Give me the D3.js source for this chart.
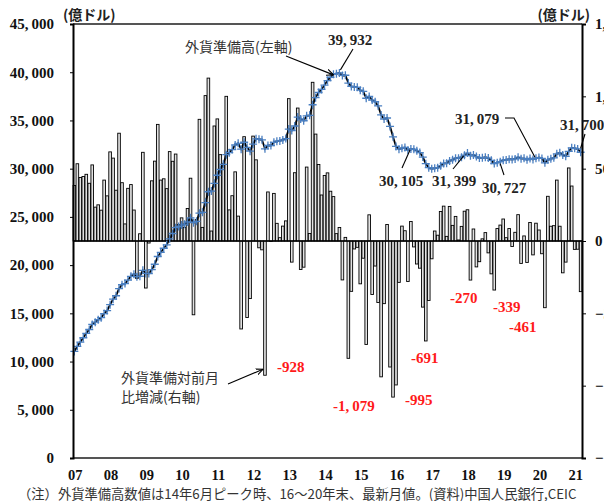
<!DOCTYPE html>
<html><head><meta charset="utf-8">
<script src="https://cdn.jsdelivr.net/npm/d3@7"></script>
<style>body{margin:0;background:#fff;overflow:hidden} svg{display:block}</style>
</head><body>
<svg id="c" width="604" height="501"></svg>
<script>
// ---- data (億ドル), monthly Jan-2007 .. Mar-2021 ----
const yearLabels = ["07","08","09","10","11","12","13","14","15","16","17","18","19","20","21"];
const reserves = [
 11047,11581,12020,12466,12927,13326,13852,14086,14336,14549,14970,15282,
 15898,16471,16822,17567,17970,18088,18452,18842,19056,18797,18847,19460,
 19135,19121,19537,20089,20895,21316,21746,22108,22726,23277,23878,23992,
 24152,24246,24471,24905,24395,24543,25384,25478,26483,27609,27678,28473,
 29317,29914,30447,31447,31662,31975,32453,32625,32017,32738,32209,31811,
 32536,33097,33050,32989,32061,32400,32400,32729,32851,32874,32977,33116,
 34100,33954,34426,35345,35148,34967,35478,35530,36627,37366,37895,38213,
 38666,39137,39481,39788,39839,39932,39663,39688,38877,38529,38474,38430,
 38134,38015,37300,37481,37111,36938,36513,35574,35141,35255,34384,33304,
 32309,32023,32126,32197,31917,32052,32011,31852,31664,31207,30516,30105,
 29982,30051,30091,30295,30536,30568,30807,30915,31085,31092,31193,31399,
 31615,31345,31428,31249,31106,31121,31179,31097,30870,30531,30617,30727,
 30879,30902,30988,30950,31010,31192,31037,31072,30924,31052,30956,31079,
 31155,31067,30606,30915,31017,31123,31544,31646,31426,31280,31785,32165,
 32107,32050,31700];
const changes = [
 384,534,439,446,461,399,526,234,250,213,421,312,
 616,573,351,745,403,118,364,390,214,-259,50,613,
 -325,-14,416,552,806,421,430,362,618,551,601,114,
 160,94,225,434,-510,148,841,94,1005,1126,69,795,
 844,597,533,1000,215,313,478,172,-608,721,-529,-398,
 725,561,-47,-61,-928,339,0,329,122,23,103,139,
 984,-146,472,919,-197,-181,511,52,1097,739,529,318,
 453,471,344,307,51,93,-269,25,-811,-348,-55,-44,
 -296,-119,-715,181,-370,-173,-425,-939,-433,114,-871,-1079,
 -995,-286,103,71,-280,135,-41,-159,-188,-457,-691,-411,
 -123,69,40,204,241,32,239,108,170,7,101,206,
 216,-270,83,-179,-143,15,58,-82,-227,-339,86,110,
 152,23,86,-38,60,182,-155,35,-148,128,-96,123,
 76,-88,-461,309,102,106,421,102,-220,-146,505,380,
 -58,-57,-350];
const leftTicks = [0,5000,10000,15000,20000,25000,30000,35000,40000,45000];
const rightTicks = [-1500,-1000,-500,0,500,1000,1500];
const levelNotes = [ // [month index, text]
 [89,"39,932"],[119,"30,105"],[131,"31,399"],[143,"30,727"],[155,"31,079"],[170,"31,700"]];
const changeNotes = [[64,"-928"],[107,"-1,079"],[108,"-995"],[118,"-691"],[133,"-270"],[141,"-339"],[158,"-461"]];
const footText = "（注）外貨準備高数値は14年6月ピーク時、16～20年末、最新月値。(資料)中国人民銀行,CEIC";

// ---- layout ----
const L = 73, R = 582, T = 24, B = 458;
const NUM = "'Liberation Serif','DejaVu Serif',serif";
const JP = "'Noto Sans CJK JP','Noto Sans',sans-serif";
const svg = d3.select("#c");

const idx = d3.range(reserves.length);
const x = d3.scaleBand().domain(idx).range([L, R]).paddingInner(0.12).paddingOuter(0.02);
const xc = i => x(i) + x.bandwidth() / 2;
const yL = d3.scaleLinear().domain([0, 45000]).range([B, T]);
const yR = d3.scaleLinear().domain([-1500, 1500]).range([B, T]);

function numText(sel, s) {
  sel.text(null);
  const p = s.split(",");
  sel.append("tspan").text(p[0] + (p.length > 1 ? "," : ""));
  if (p.length > 1) sel.append("tspan").attr("dx", 3).text(p[1]);
}

// bars
svg.append("g").selectAll("rect").data(changes).join("rect")
  .attr("x", (d, i) => x(i))
  .attr("width", x.bandwidth())
  .attr("y", d => yR(Math.max(0, d)))
  .attr("height", d => Math.max(0.5, Math.abs(yR(d) - yR(0))))
  .attr("fill", "#e2e2e2").attr("stroke", "#000").attr("stroke-width", 0.9);

// zero line
svg.append("line").attr("x1", L).attr("x2", R).attr("y1", yR(0)).attr("y2", yR(0))
  .attr("stroke", "#000").attr("stroke-width", 1.6);

// reserves line
const line = d3.line().x((d, i) => xc(i)).y(d => yL(d));
svg.append("path").datum(reserves).attr("d", line).attr("fill", "none")
  .attr("stroke", "#000").attr("stroke-width", 1.8);
svg.append("g").selectAll("path").data(reserves).join("path")
  .attr("transform", (d, i) => `translate(${xc(i)},${yL(d)})`)
  .attr("d", "M-4,0H4M0,-4V4")
  .attr("stroke", "#4a7fc1").attr("stroke-width", 1.3).attr("fill", "none");

// frame
svg.append("line").attr("x1", L).attr("x2", R).attr("y1", T).attr("y2", T).attr("stroke", "#555").attr("stroke-width", 2);
svg.append("line").attr("x1", L).attr("x2", R).attr("y1", B).attr("y2", B).attr("stroke", "#555").attr("stroke-width", 2);

// left axis
const gl = svg.append("g").attr("transform", `translate(${L},0)`)
  .call(d3.axisLeft(yL).tickValues(leftTicks).tickSize(3).tickPadding(16).tickFormat(d3.format(",")));
gl.select(".domain").attr("stroke", "#000").attr("stroke-width", 2);
gl.selectAll("text").attr("font-family", NUM).attr("font-size", 15).attr("font-weight", "bold").attr("fill", "#111")
  .each(function(d) { numText(d3.select(this), d3.format(",")(d)); });

// right axis
const gr = svg.append("g").attr("transform", `translate(${R},0)`)
  .call(d3.axisRight(yR).tickValues(rightTicks).tickSize(4).tickPadding(9).tickFormat(d3.format(",")));
gr.select(".domain").attr("stroke", "#000").attr("stroke-width", 2);
gr.selectAll("text").attr("font-family", NUM).attr("font-size", 15).attr("font-weight", "bold").attr("fill", "#111")
  .each(function(d) { numText(d3.select(this), d3.format(",")(d)); });

// x labels
svg.append("g").selectAll("text").data(yearLabels).join("text")
  .attr("x", (d, k) => xc(k * 12) + 1).attr("y", 480)
  .attr("text-anchor", "middle").attr("font-family", NUM).attr("font-size", 14.5).attr("font-weight", "bold")
  .attr("fill", "#111").text(d => d);

// unit labels
svg.append("text").attr("x", 63).attr("y", 20).attr("font-family", JP).attr("font-size", 14).attr("font-weight", "bold").attr("fill", "#222").text("(億ドル)");
svg.append("text").attr("x", 590).attr("y", 20).attr("text-anchor", "end").attr("font-family", JP).attr("font-size", 14).attr("font-weight", "bold").attr("fill", "#222").text("(億ドル)");

// arrow marker
svg.append("defs").append("marker").attr("id", "ah").attr("viewBox", "0 0 10 10")
  .attr("refX", 9).attr("refY", 5).attr("markerWidth", 7).attr("markerHeight", 7).attr("orient", "auto")
  .append("path").attr("d", "M0,1L9,5L0,9").attr("fill", "none").attr("stroke", "#000").attr("stroke-width", 1.4);

function seg(pts, arrow) {
  const p = svg.append("path").attr("d", d3.line()(pts)).attr("fill", "none").attr("stroke", "#000").attr("stroke-width", 1.1);
  if (arrow) p.attr("marker-end", "url(#ah)");
}

// series labels
svg.append("text").attr("x", 185).attr("y", 52).attr("font-family", JP).attr("font-size", 14).attr("fill", "#333").text("外貨準備高(左軸)");
seg([[286, 56], [xc(89) - 6, yL(reserves[89]) + 2]], true);
svg.append("text").attr("x", 121).attr("y", 383).attr("font-family", JP).attr("font-size", 14).attr("fill", "#333").text("外貨準備対前月");
svg.append("text").attr("x", 121).attr("y", 402).attr("font-family", JP).attr("font-size", 14).attr("fill", "#333").text("比増減(右軸)");
seg([[228, 384], [xc(64) - 2, yR(changes[64]) - 6]], true);

// level annotations
const lvPos = {
  89: {tx: 328, ty: 45, lead: [[353, 49], [xc(89) + 1, yL(reserves[89]) - 3]]},
  119: {tx: 379, ty: 186, lead: [[402, 168], [410, 150]]},
  131: {tx: 432, ty: 186, lead: [[453, 169], [xc(131) - 1, yL(reserves[131]) + 1]]},
  143: {tx: 482, ty: 193, lead: [[504, 175], [xc(143), yL(reserves[143]) + 2]]},
  155: {tx: 455, ty: 124, lead: [[505, 118], [514, 118], [xc(155) - 1, yL(reserves[155]) - 1]]},
  170: {tx: 560, ty: 130, lead: [[585, 134], [xc(170), yL(reserves[170]) - 4]]}
};
levelNotes.forEach(([i, s]) => {
  const p = lvPos[i];
  const t = svg.append("text").attr("x", p.tx).attr("y", p.ty).attr("font-family", NUM).attr("font-size", 15).attr("font-weight", "bold").attr("fill", "#222");
  numText(t, s);
  seg(p.lead, false);
});

// change annotations (red)
const chPos = {64: [277, 372], 107: [333, 411], 108: [405, 405], 118: [411, 363], 133: [450, 303], 141: [493, 312], 158: [509, 332]};
changeNotes.forEach(([i, s]) => {
  const t = svg.append("text").attr("x", chPos[i][0]).attr("y", chPos[i][1]).attr("font-family", NUM).attr("font-size", 15).attr("font-weight", "bold").attr("fill", "#ff1a1a");
  numText(t, s);
});

// footnote
svg.append("text").attr("x", 18).attr("y", 499).attr("font-family", JP).attr("font-size", 13.3).attr("fill", "#333").text(footText);
</script>
</body></html>
